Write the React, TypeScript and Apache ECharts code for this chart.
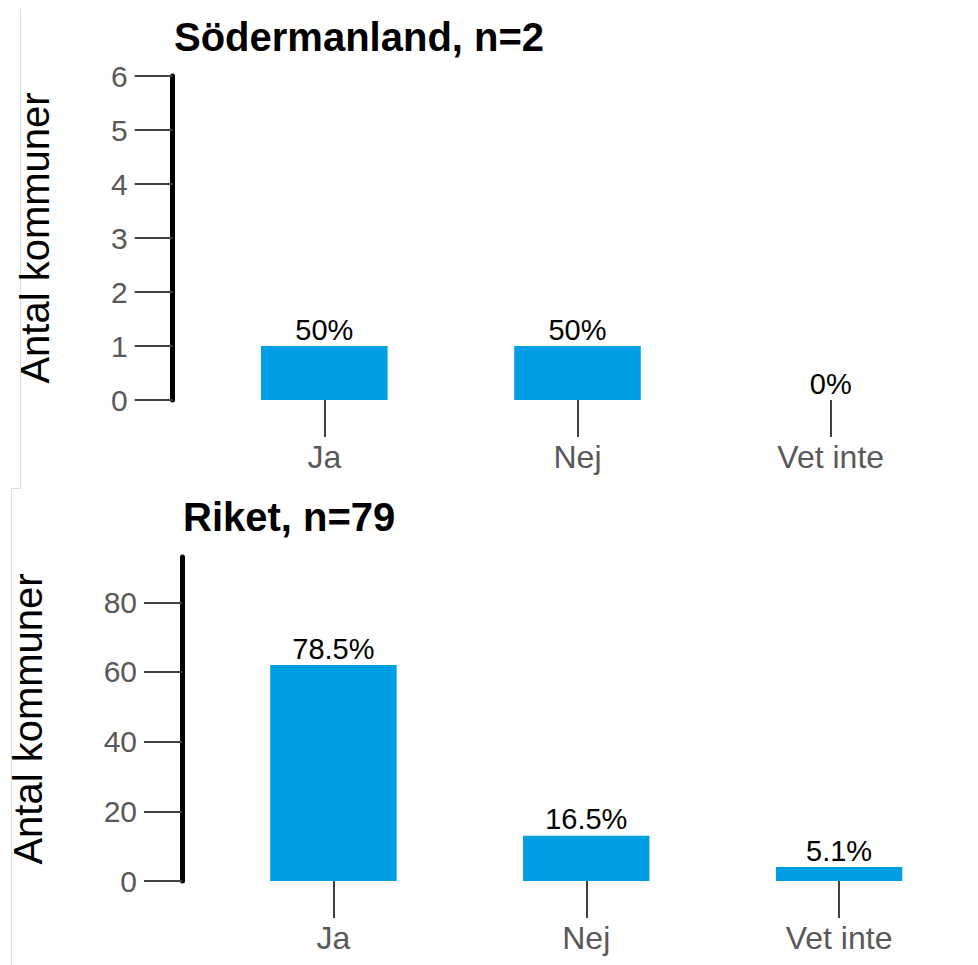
import React, { useEffect, useRef } from "react";
import * as echarts from "echarts";

const categories = ["Ja", "Nej", "Vet inte"];
const sodermanlandCounts = [1, 1, 0];
const sodermanlandPct = ["50%", "50%", "0%"];
const riketCounts = [62, 13, 4];
const riketPct = ["78.5%", "16.5%", "5.1%"];
const sodermanlandTitle = "Södermanland, n=2";
const riketTitle = "Riket, n=79";
const yName = "Antal kommuner";
const sodermanlandTicks = [0, 1, 2, 3, 4, 5, 6];
const riketTicks = [0, 20, 40, 60, 80];

const FONT = "'Liberation Sans', Arial, sans-serif";
const BAR = "#009FE3";
const TICK = "#404040";
const LABEL = "#595959";

function yAxis(gridIndex: number, max: number, ticks: number[], interval: number, nameGap: number) {
  return {
    type: "value",
    gridIndex,
    min: 0,
    max,
    interval,
    offset: 25,
    name: yName,
    nameLocation: "middle",
    nameGap,
    nameTextStyle: { fontFamily: FONT, fontSize: 40, color: "#000" },
    axisLine: { show: true, lineStyle: { color: "#000", width: 5 } },
    axisTick: { show: true, length: 38, customValues: ticks, lineStyle: { color: TICK, width: 2 } },
    axisLabel: { margin: 45, customValues: ticks, fontFamily: FONT, fontSize: 30, color: LABEL },
    splitLine: { show: false },
  };
}

function xAxis(gridIndex: number) {
  return {
    type: "category",
    gridIndex,
    data: categories,
    axisLine: { show: false },
    axisTick: { show: true, alignWithLabel: true, length: 37, lineStyle: { color: TICK, width: 2 } },
    axisLabel: { margin: 41, fontFamily: FONT, fontSize: 32, color: LABEL },
    splitLine: { show: false },
  };
}

function barSeries(idx: number, values: number[], pct: string[]) {
  return {
    type: "bar",
    xAxisIndex: idx,
    yAxisIndex: idx,
    data: values,
    barWidth: "50%",
    itemStyle: { color: BAR },
    label: {
      show: true,
      position: "top",
      distance: 2,
      fontFamily: FONT,
      fontSize: 29,
      color: "#000",
      formatter: (p: any) => pct[p.dataIndex],
    },
  };
}

export default function App() {
  const ref = useRef<HTMLDivElement>(null);
  useEffect(() => {
    if (!ref.current) return;
    const chart = echarts.init(ref.current, undefined, { renderer: "svg" });
    chart.setOption({
      animation: false,
      backgroundColor: "#fff",
      grid: [
        { left: 197.7, right: 20.7, top: 76, height: 324, containLabel: false },
        { left: 205.5, right: 12.5, top: 557, height: 324, containLabel: false },
      ],
      xAxis: [xAxis(0), xAxis(1)],
      yAxis: [
        yAxis(0, 6, sodermanlandTicks, 1, 118),
        yAxis(1, 93, riketTicks, 20, 134),
      ],
      series: [
        barSeries(0, sodermanlandCounts, sodermanlandPct),
        barSeries(1, riketCounts, riketPct),
      ],
      graphic: [
        {
          type: "text",
          left: 174,
          top: 17,
          style: { text: sodermanlandTitle, fontFamily: FONT, fontSize: 40, fontWeight: "bold", fill: "#000" },
        },
        {
          type: "text",
          left: 183,
          top: 497,
          style: { text: riketTitle, fontFamily: FONT, fontSize: 40, fontWeight: "bold", fill: "#000" },
        },
        { type: "line", shape: { x1: 20.5, y1: 9, x2: 20.5, y2: 488.5 }, style: { stroke: "#dddddd", lineWidth: 1 } },
        { type: "line", shape: { x1: 11, y1: 488.5, x2: 20.5, y2: 488.5 }, style: { stroke: "#dddddd", lineWidth: 1 } },
        { type: "line", shape: { x1: 11.5, y1: 488.5, x2: 11.5, y2: 965 }, style: { stroke: "#dddddd", lineWidth: 1 } },
      ],
    });
    return () => chart.dispose();
  }, []);
  return <div ref={ref} style={{ position: "absolute", left: 0, top: 0, width: 978, height: 965 }} />;
}
